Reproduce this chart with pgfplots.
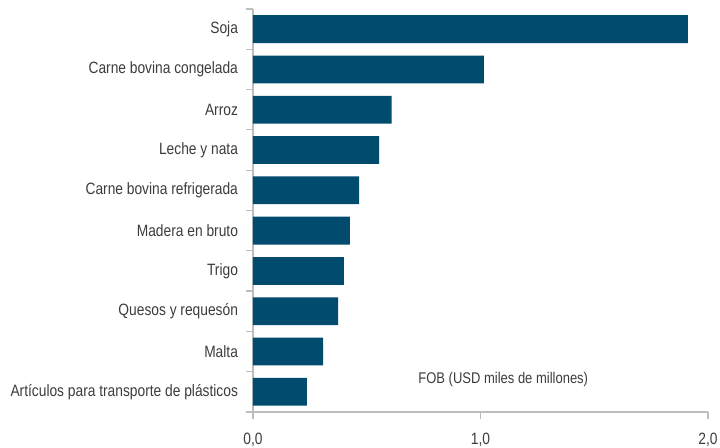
\documentclass[border=0pt]{standalone}
\usepackage{pgfplots}
\pgfplotsset{compat=1.18}
\usepackage{fontspec}
\setmainfont{Liberation Sans}[FakeStretch=0.84]
\definecolor{barblue}{HTML}{004B6E}
\definecolor{txt}{HTML}{3C3C3C}
\definecolor{axgray}{HTML}{BDBDBD}

\begin{document}
\begin{tikzpicture}
% 1 px of the reference = 0.75pt
\useasboundingbox (-189.75pt,-27pt) rectangle (350.25pt,309pt);
\begin{axis}[
    at={(0,0)}, anchor=south west,
    scale only axis,
    width=341.25pt, height=302.25pt,
    xbar, bar width=0.69, bar shift=0pt,
    xmin=0, xmax=2, ymin=-0.5, ymax=9.5,
    axis lines*=left,
    axis line style={axgray, line width=0.9pt},
    tick align=outside,
    major tick length=5.25pt,
    tick style={axgray, line width=0.9pt},
    xtick={0,1,2},
    xticklabels={{0,0},{1,0},{2,0}},
    ytick={-0.5,0.5,...,9.5},
    yticklabels={},
    extra y ticks={0,...,9},
    extra y tick labels={Artículos para transporte de plásticos, Malta, Quesos y requesón,
        Trigo, Madera en bruto, Carne bovina refrigerada, Leche y nata, Arroz,
        Carne bovina congelada, Soja},
    extra y tick style={ytick style={draw=none}},
    tick label style={font=\fontsize{12.3}{14}\selectfont, color=txt},
    yticklabel style={xshift=-2.5pt},
    xticklabel style={yshift=-7pt},
    clip=false,
]
\addplot[fill=barblue, draw=none] coordinates {
    (0.237,0) (0.308,1) (0.374,2) (0.400,3) (0.426,4)
    (0.466,5) (0.554,6) (0.609,7) (1.015,8) (1.911,9)};
\node[font=\fontsize{11.6}{13}\selectfont, color=txt] at (axis cs:1.1,0.3) {FOB (USD miles de millones)};
\end{axis}
\end{tikzpicture}
\end{document}
